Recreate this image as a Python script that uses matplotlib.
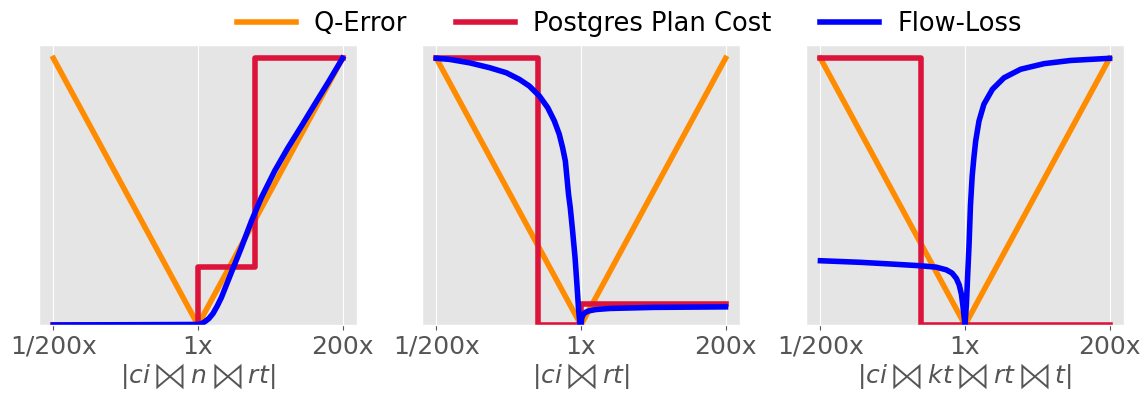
import matplotlib.pyplot as plt

plt.style.use('ggplot')

# x is the log estimation ratio scaled so that -1 = 1/200x, 0 = 1x, 1 = 200x
tick_pos = [-1, 0, 1]
tick_labels = ['1/200x', '1x', '200x']
xlabels = [r'$|ci \Join n \Join rt|$',
           r'$|ci \Join rt|$',
           r'$|ci \Join kt \Join rt \Join t|$']

# Q-Error is the same V shape in every panel
qerr_x = [-1, 0, 1]
qerr_y = [1, 0, 1]

# Postgres plan cost (step functions)
pg1_x = [-1, 0, 0, 0.393, 0.393, 1]
pg1_y = [0, 0, 0.216, 0.216, 1, 1]
pg2_x = [-1, -0.294, -0.294, 0, 0, 1]
pg2_y = [1, 1, 0, 0, 0.078, 0.078]
pg3_x = [-1, -0.306, -0.306, 1]
pg3_y = [1, 1, 0, 0]

# Flow-Loss
fl1_x = [-1, 0, 0.025, 0.046, 0.075, 0.104, 0.132, 0.162, 0.195, 0.231,
         0.3, 0.37, 0.439, 0.531, 0.623, 0.716, 0.808, 0.9, 1]
fl1_y = [0, 0.002, 0.005, 0.012, 0.024, 0.043, 0.07, 0.103, 0.148, 0.197,
         0.29, 0.39, 0.478, 0.578, 0.665, 0.746, 0.828, 0.909, 1]

fl2_x = [-1, -0.908, -0.77, -0.633, -0.517, -0.426, -0.357, -0.288, -0.23,
         -0.184, -0.15, -0.127, -0.108, -0.097, -0.086, -0.074, -0.058,
         -0.041, -0.028, -0.016, -0.007, 0, 0.005, 0.015, 0.03, 0.055, 0.103,
         0.2, 0.5, 1]
fl2_y = [1, 0.996, 0.983, 0.965, 0.946, 0.921, 0.896, 0.859, 0.815,
         0.765, 0.715, 0.665, 0.615, 0.553, 0.49, 0.44, 0.353,
         0.253, 0.153, 0.054, 0.004, 0, 0.025, 0.039, 0.047, 0.053, 0.058,
         0.062, 0.066, 0.068]

fl3_x = [-1, -0.721, -0.491, -0.306, -0.2, -0.13, -0.09, -0.06, -0.04,
         -0.025, -0.015, -0.007, 0, 0.01, 0.018, 0.028, 0.038, 0.05, 0.062,
         0.074, 0.097, 0.131, 0.19, 0.27, 0.385, 0.547, 0.731, 1]
fl3_y = [0.241, 0.235, 0.228, 0.222, 0.217, 0.207, 0.195, 0.175, 0.15,
         0.116, 0.075, 0.035, 0, 0.08, 0.18, 0.3, 0.45, 0.56, 0.63,
         0.69, 0.765, 0.828, 0.884, 0.927, 0.959, 0.98, 0.992, 1]

pg_x = [pg1_x, pg2_x, pg3_x]
pg_y = [pg1_y, pg2_y, pg3_y]
fl_x = [fl1_x, fl2_x, fl3_x]
fl_y = [fl1_y, fl2_y, fl3_y]

fig = plt.figure(figsize=(11.46, 3.96), dpi=100)
lefts = [0.034, 0.3682, 0.7033]

for i in range(3):
    ax = fig.add_axes([lefts[i], 0.1793, 0.2775, 0.7071])
    ax.plot(qerr_x, qerr_y, color='darkorange', lw=4, label='Q-Error')
    ax.plot(pg_x[i], pg_y[i], color='crimson', lw=4, label='Postgres Plan Cost')
    ax.plot(fl_x[i], fl_y[i], color='blue', lw=4, label='Flow-Loss')
    ax.set_xlim(-1.1, 1.1)
    ax.set_ylim(0, 1.05)
    ax.set_yticks([])
    ax.set_xticks(tick_pos)
    ax.set_xticklabels(tick_labels, fontsize=18)
    ax.set_xlabel(xlabels[i], fontsize=18, labelpad=2)
    ax.grid(True, axis='x', color='white')

handles, labels = ax.get_legend_handles_labels()
fig.legend(handles, labels, loc='upper center', bbox_to_anchor=(0.549, 1.03),
           ncol=3, frameon=False, fontsize=18.5, handlelength=2.3,
           handletextpad=0.7, columnspacing=1.9)

fig.savefig('out.png', dpi=100)
